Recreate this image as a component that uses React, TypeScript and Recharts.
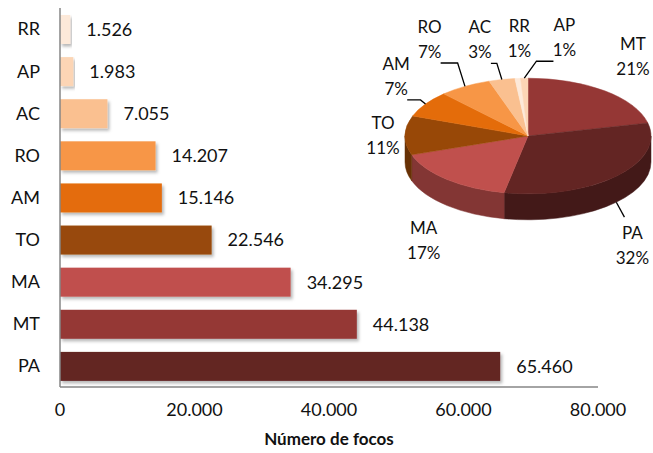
import React from 'react';
import { BarChart, Bar, XAxis, YAxis, LabelList, Label, Cell, PieChart, Pie } from 'recharts';

// focos de queimada por estado
const states = ['RR', 'AP', 'AC', 'RO', 'AM', 'TO', 'MA', 'MT', 'PA'];
const focos = [1526, 1983, 7055, 14207, 15146, 22546, 34295, 44138, 65460];
const xTicks = [0, 20000, 40000, 60000, 80000];
const pieOrder = ['MT', 'PA', 'MA', 'TO', 'AM', 'RO', 'AC', 'RR', 'AP'];

const barData = states.map((s, i) => ({ state: s, focos: focos[i] }));
const pieData = pieOrder.map((s) => ({ state: s, focos: focos[states.indexOf(s)] }));

const COLORS: Record<string, string> = {
  RR: '#fde9d9',
  AP: '#fcd5b5',
  AC: '#fac090',
  RO: '#f79646',
  AM: '#e46c0a',
  TO: '#984807',
  MA: '#c0504d',
  MT: '#953735',
  PA: '#632523',
};

// label nudges for the pie (Excel spreads the small ones apart)
const NUDGE: Record<string, [number, number]> = {
  MT: [11, -3],
  PA: [-4, 15],
  MA: [-5, 4],
  TO: [6, 0],
  AM: [-6, -6],
  RO: [-21, -13],
  AC: [-16, -1],
  RR: [4, -1],
  AP: [41, -1],
};
const LEADERS = ['RO', 'AC', 'AP', 'AM', 'PA'];

const FONT = 'Lato, "Open Sans", sans-serif';
const TEXT = '#111';
const AXIS = '#868686';
const TILT = 0.47;
const DEPTH = 26;

const fmt = (v: number) => String(v).replace(/\B(?=(\d{3})+(?!\d))/g, '.');

const darken = (hex: string, k: number) => {
  const n = parseInt(hex.slice(1), 16);
  const r = Math.round(((n >> 16) & 255) * k);
  const g = Math.round(((n >> 8) & 255) * k);
  const b = Math.round((n & 255) * k);
  return `rgb(${r},${g},${b})`;
};

const ell = (cx: number, cy: number, r: number, deg: number) => {
  const a = (deg * Math.PI) / 180;
  return { x: cx + r * Math.cos(a), y: cy - r * TILT * Math.sin(a) };
};

const BarShape = (props: any) => {
  const { x, y, width, height, fill } = props;
  if (width <= 0) return null;
  return <rect x={x} y={y} width={width} height={height} fill={fill} filter="url(#barShadow)" />;
};

// draws the 3D elliptical slice (wall + top) and its label
const Slice3D = (props: any) => {
  const { cx, cy, outerRadius, startAngle, endAngle, percent } = props;
  const name: string = props.name ?? props.payload?.state;
  const color = COLORS[name];
  const rx = outerRadius;
  const ry = outerRadius * TILT;
  const s = Math.max(startAngle, endAngle);
  const e = Math.min(startAngle, endAngle);
  const mid = (s + e) / 2;

  const lo = Math.max(e, -180);
  const hi = Math.min(s, 0);
  let wall = null;
  if (lo < hi) {
    const p1 = ell(cx, cy, rx, hi);
    const p2 = ell(cx, cy, rx, lo);
    const d = `M${p1.x},${p1.y} A${rx},${ry} 0 0 1 ${p2.x},${p2.y} L${p2.x},${p2.y + DEPTH} A${rx},${ry} 0 0 0 ${p1.x},${p1.y + DEPTH} Z`;
    wall = <path d={d} fill={darken(color, 0.68)} stroke={darken(color, 0.68)} strokeWidth={0.5} />;
  }

  const ps = ell(cx, cy, rx, s);
  const pe = ell(cx, cy, rx, e);
  const large = s - e > 180 ? 1 : 0;
  const top = `M${cx},${cy} L${ps.x},${ps.y} A${rx},${ry} 0 ${large} 1 ${pe.x},${pe.y} Z`;

  const a = (mid * Math.PI) / 180;
  const sin = Math.sin(a);
  const [nx, ny] = NUDGE[name] ?? [0, 0];
  const lx = cx + (rx + 28) * Math.cos(a) + nx;
  const ly = cy - (ry + 40) * sin + (sin < 0 ? DEPTH : 0) + ny;

  let leader = null;
  if (LEADERS.includes(name)) {
    const rim = ell(cx, cy, rx, mid);
    if (sin < 0) {
      leader = <polyline points={`${rim.x},${rim.y + DEPTH} ${lx - 8},${ly - 28}`} fill="none" stroke="#000" strokeWidth={1.3} />;
    } else {
      const sign = rim.x > lx ? 1 : -1;
      const sx = lx + 11 * sign;
      const sy = ly + 24;
      const h = Math.min(17, Math.abs(rim.x - sx) - 5);
      leader = (
        <polyline
          points={`${sx},${sy} ${sx + h * sign},${sy} ${rim.x},${rim.y}`}
          fill="none"
          stroke="#000"
          strokeWidth={1.3}
        />
      );
    }
  }

  return (
    <g>
      {wall}
      <path d={top} fill={color} stroke={color} strokeWidth={0.5} />
      {leader}
      <text x={lx} y={ly - 6} textAnchor="middle" fontSize={17} fill={TEXT} fontFamily={FONT}>
        {name}
      </text>
      <text x={lx} y={ly + 19} textAnchor="middle" fontSize={17} fill={TEXT} fontFamily={FONT}>
        {`${Math.round(percent * 100)}%`}
      </text>
    </g>
  );
};

export default function App() {
  return (
    <div style={{ position: 'absolute', left: 0, top: 0, width: 653, height: 453, fontFamily: FONT, background: '#fff' }}>
      <BarChart
        width={653}
        height={453}
        data={barData}
        layout="vertical"
        margin={{ top: 8, right: 55, bottom: 6, left: 0 }}
        barSize={29}
      >
        <defs>
          <filter id="barShadow" x="-5%" y="-20%" width="115%" height="160%">
            <feDropShadow dx="2" dy="2.5" stdDeviation="1.5" floodColor="#000" floodOpacity="0.28" />
          </filter>
        </defs>
        <XAxis
          type="number"
          domain={[0, 80000]}
          ticks={xTicks}
          tickFormatter={fmt}
          axisLine={{ stroke: AXIS, strokeWidth: 1.5 }}
          tickLine={false}
          tickMargin={10}
          height={60}
          tick={{ fill: TEXT, fontSize: 18, fontFamily: FONT }}
        >
          <Label
            value="Número de focos"
            position="insideBottom"
            offset={2}
            style={{ fill: TEXT, fontSize: 17, fontWeight: 700, fontFamily: FONT }}
          />
        </XAxis>
        <YAxis
          type="category"
          dataKey="state"
          width={60}
          axisLine={{ stroke: AXIS, strokeWidth: 1.5 }}
          tickLine={false}
          tickMargin={14}
          tick={{ fill: TEXT, fontSize: 18, fontFamily: FONT }}
        />
        <Bar dataKey="focos" shape={BarShape} isAnimationActive={false}>
          {barData.map((d) => (
            <Cell key={d.state} fill={COLORS[d.state]} />
          ))}
          <LabelList
            dataKey="focos"
            position="right"
            offset={16}
            formatter={(v: any) => fmt(Number(v))}
            style={{ fill: TEXT, fontSize: 18, fontFamily: FONT }}
          />
        </Bar>
      </BarChart>
      <div style={{ position: 'absolute', left: 0, top: 0, pointerEvents: 'none' }}>
        <PieChart width={653} height={453} margin={{ top: 0, right: 0, bottom: 0, left: 0 }}>
          <Pie
            data={pieData}
            dataKey="focos"
            nameKey="state"
            cx={528}
            cy={136}
            outerRadius={123}
            startAngle={90}
            endAngle={-270}
            fill="none"
            stroke="none"
            label={Slice3D}
            labelLine={false}
            isAnimationActive={false}
          />
        </PieChart>
      </div>
    </div>
  );
}
